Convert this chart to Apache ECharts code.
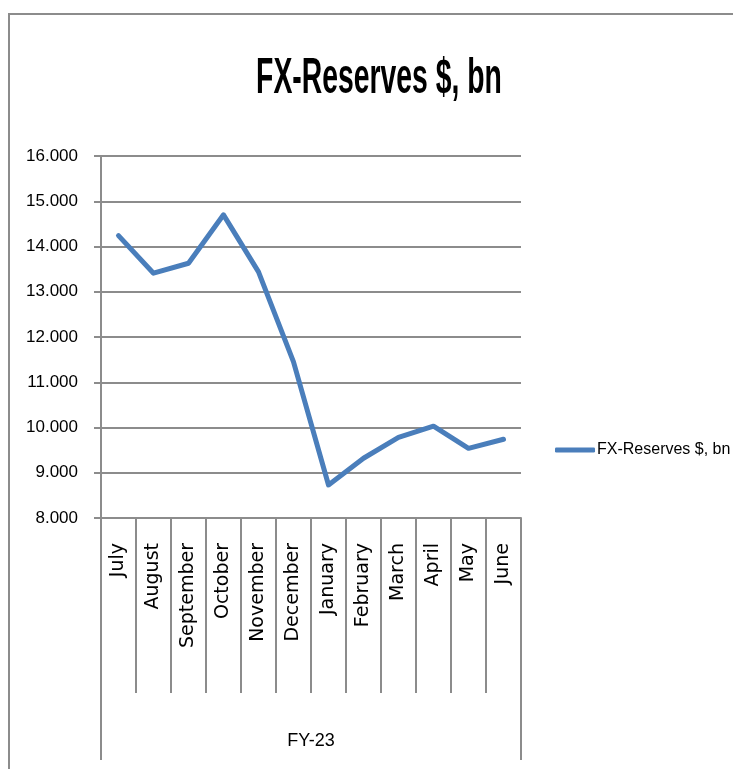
<!DOCTYPE html>
<html>
<head>
<meta charset="utf-8">
<script src="https://cdn.jsdelivr.net/npm/echarts@6/dist/echarts.min.js"></script>
<style>
  html, body { margin: 0; padding: 0; background: #fff; }
  #main { width: 733px; height: 769px; }
</style>
</head>
<body>
<div id="main"></div>
<script>
// data
var months = ['July', 'August', 'September', 'October', 'November', 'December',
    'January', 'February', 'March', 'April', 'May', 'June'];
var fxReserves = [14.24, 13.41, 13.63, 14.70, 13.44, 11.45, 8.73, 9.32, 9.78, 10.03, 9.54, 9.74];
var fiscalYear = ['FY-23'];
var seriesName = 'FX-Reserves $, bn';

var sans = '"Liberation Sans", Arial, sans-serif';
var gridColor = '#8c8c8c';

var myChart = echarts.init(document.getElementById('main'));

var option = {
    animation: false,
    backgroundColor: '#fff',
    color: ['#4a7ebb'],
    graphic: [
        {   // outer frame (top and left edges)
            type: 'polyline',
            shape: { points: [[9, 769], [9, 14], [733, 14]] },
            style: { stroke: gridColor, lineWidth: 2, fill: null }
        },
        {   // title, narrow and tall like the original
            type: 'text',
            x: 379,
            y: 54,
            scaleX: 0.81,
            scaleY: 1.45,
            style: {
                text: seriesName,
                font: 'bold 35px ' + sans,
                fill: '#000',
                textAlign: 'center',
                textVerticalAlign: 'top'
            }
        }
    ],
    legend: {
        data: [seriesName],
        left: 550,
        top: 437,
        icon: 'roundRect',
        itemWidth: 40,
        itemHeight: 5,
        itemGap: 0,
        textStyle: { fontFamily: sans, fontSize: 16, color: '#000', padding: [0, 0, 0, -3] }
    },
    grid: { left: 101, right: 212, top: 156, bottom: 251 },
    xAxis: [
        {
            type: 'category',
            data: months,
            axisLine: { show: true, lineStyle: { color: gridColor, width: 2 } },
            axisTick: { show: true, interval: 0, length: 175, lineStyle: { color: gridColor, width: 2 } },
            axisLabel: {
                rotate: 90,
                margin: 25,
                interval: 0,
                fontFamily: 'DejaVu Sans',
                fontSize: 19,
                color: '#000'
            }
        },
        {
            type: 'category',
            data: fiscalYear,
            position: 'bottom',
            offset: 0,
            axisLine: { show: false },
            axisTick: { show: true, interval: 0, length: 242, lineStyle: { color: gridColor, width: 2 } },
            axisLabel: { margin: 214, fontFamily: sans, fontSize: 18, color: '#000' }
        }
    ],
    yAxis: {
        type: 'value',
        min: 8,
        max: 16,
        interval: 1,
        axisLine: { show: true, lineStyle: { color: gridColor, width: 2 } },
        axisTick: { show: true, length: 7, lineStyle: { color: gridColor, width: 2 } },
        splitLine: { lineStyle: { color: gridColor, width: 2 } },
        axisLabel: {
            margin: 23,
            fontFamily: sans,
            fontSize: 17,
            color: '#000',
            formatter: function (v) { return v.toFixed(3); }
        }
    },
    series: [{
        name: seriesName,
        type: 'line',
        data: fxReserves,
        symbol: 'none',
        lineStyle: { width: 5, cap: 'round', join: 'round' }
    }]
};

myChart.setOption(option);
</script>
</body>
</html>
